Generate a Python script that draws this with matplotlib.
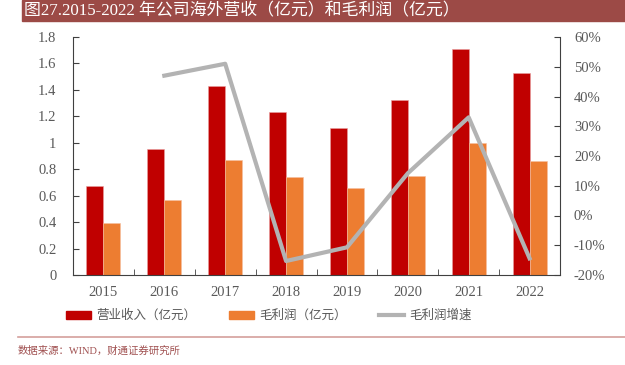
import matplotlib
matplotlib.use("Agg")
import matplotlib.pyplot as plt
from matplotlib.patches import Rectangle, Patch
from matplotlib.lines import Line2D
import numpy as np

years = ["2015", "2016", "2017", "2018", "2019", "2020", "2021", "2022"]
revenue = [0.67, 0.95, 1.43, 1.23, 1.11, 1.32, 1.71, 1.53]
profit = [0.39, 0.57, 0.87, 0.74, 0.66, 0.75, 1.00, 0.86]
growth_years = ["2016", "2017", "2018", "2019", "2020", "2021", "2022"]
growth = [0.47, 0.51, -0.153, -0.107, 0.142, 0.33, -0.144]

left_ticks = [0, 0.2, 0.4, 0.6, 0.8, 1.0, 1.2, 1.4, 1.6, 1.8]
left_labels = ["0", "0.2", "0.4", "0.6", "0.8", "1", "1.2", "1.4", "1.6", "1.8"]
right_ticks = [-0.2, -0.1, 0, 0.1, 0.2, 0.3, 0.4, 0.5, 0.6]
right_labels = ["-20%", "-10%", "0%", "10%", "20%", "30%", "40%", "50%", "60%"]

title = "图27.2015-2022 年公司海外营收（亿元）和毛利润（亿元）"
legend_labels = ["营业收入（亿元）", "毛利润（亿元）", "毛利润增速"]
source = "数据来源：WIND，财通证券研究所"

RED = "#c00000"
ORANGE = "#ed7d31"
GREY = "#b3b3b3"
TXT = "#595959"
FAM = ["Liberation Serif", "Noto Sans CJK SC"]

plt.rcParams["font.family"] = FAM

fig = plt.figure(figsize=(6.25, 3.65), dpi=100)
ax = fig.add_axes([73/625, 90/365, 487/625, 238/365])

x = np.arange(len(years))
w = 0.28
ax.bar(x - w/2, revenue, w, color=RED, edgecolor="#e8a0a0", linewidth=0.4, zorder=2)
ax.bar(x + w/2, profit, w, color=ORANGE, edgecolor="#f5c0a0", linewidth=0.4, zorder=2)
ax.set_xlim(-0.5, len(years) - 0.5)
ax.set_ylim(0, 1.8)
ax.set_yticks(left_ticks)
ax.set_yticklabels(left_labels)
ax.set_xticks(x)
ax.set_xticklabels(years)
ax.set_xticks(np.arange(-0.5, len(years), 1), minor=True)
ax.tick_params(axis="x", which="major", length=0, pad=8, labelsize=10.5, labelcolor=TXT)
ax.tick_params(axis="x", which="minor", direction="in", length=4, color="#404040")
ax.tick_params(axis="y", direction="in", length=4, color="#404040", labelsize=10.5,
               labelcolor=TXT, pad=12)
for s in ["top", "right"]:
    ax.spines[s].set_visible(False)
ax.spines["left"].set_color("#404040")
ax.spines["bottom"].set_color("#404040")

ax2 = ax.twinx()
gx = [years.index(y) for y in growth_years]
ax2.plot(gx, growth, color=GREY, linewidth=3, zorder=3)
ax2.set_ylim(-0.2, 0.6)
ax2.set_yticks(right_ticks)
ax2.set_yticklabels(right_labels)
ax2.tick_params(axis="y", direction="in", length=4, color="#404040", labelsize=10.5,
                labelcolor=TXT, pad=10)
for s in ["top", "left", "bottom"]:
    ax2.spines[s].set_visible(False)
ax2.spines["right"].set_color("#404040")

# title bar
fig.patches.append(Rectangle((22/625, (365-21)/365), 1 - 22/625, 21/365,
                             transform=fig.transFigure, color="#9c4a46", zorder=0))
fig.text(24/625, (365-11)/365, title, color="white", fontsize=12.2, va="center",
         ha="left", family=FAM)

handles = [Patch(color=RED), Patch(color=ORANGE), Line2D([], [], color=GREY, lw=3)]
leg = fig.legend(handles, legend_labels, ncol=3, loc="center left",
                 bbox_to_anchor=(55/625, (365-316)/365), frameon=False,
                 handlelength=2.0, handleheight=0.6, columnspacing=2.6, handletextpad=0.4,
                 prop={"family": FAM, "size": 9})
for t in leg.get_texts():
    t.set_color(TXT)

fig.add_artist(Line2D([18/625, 1], [(365-337)/365]*2, transform=fig.transFigure,
                      color="#d4a09c", lw=1.2))
fig.text(18/625, (365-351)/365, source, color="#a05050", fontsize=7.5, va="center",
         ha="left", family=FAM)

fig.savefig("out.png", dpi=100)
